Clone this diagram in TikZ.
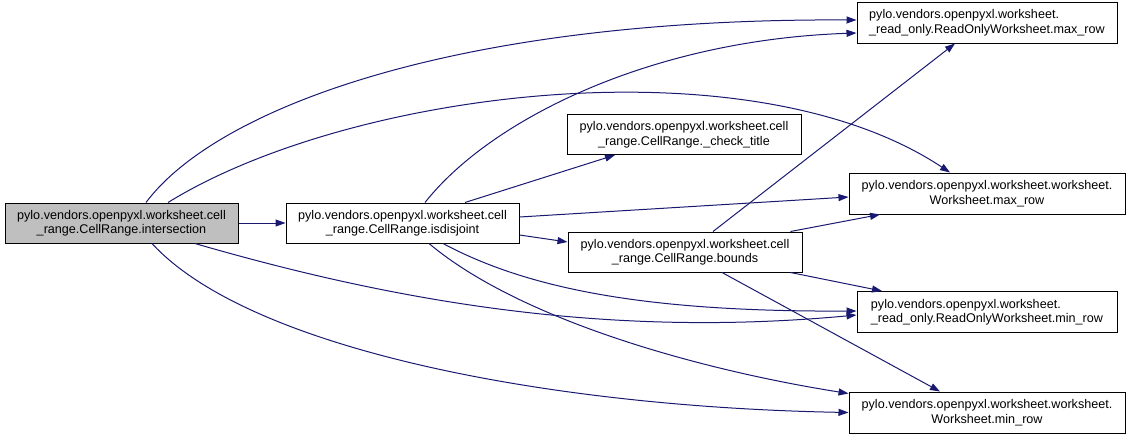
\documentclass[tikz,border=0pt]{standalone}
\usepackage{fontspec}
\setmainfont{Liberation Sans}
\usetikzlibrary{arrows.meta}
\definecolor{edgeblue}{HTML}{191970}
\definecolor{nodegray}{HTML}{BFBFBF}
\begin{document}
\begin{tikzpicture}[x=1pt,y=-1pt,
  fn/.style={draw=black, line width=1pt, fill=white, inner sep=0pt,
    font=\fontsize{12.6}{14.5}\selectfont, align=center, minimum height=40pt},
  fnleft/.style={fn, align=left},
  cur/.style={fn, fill=nodegray},
  call/.style={draw=edgeblue, line width=1pt, -{Triangle[length=10pt,width=7pt]}, fill=none},
]
\useasboundingbox (0,0) rectangle (1131,439);
\node[cur, minimum width=233pt] (A) at (121.5,223) {pylo.vendors.openpyxl.worksheet.cell\\\_range.CellRange.intersection};
\node[fn, minimum width=233pt] (B) at (402.5,223) {pylo.vendors.openpyxl.worksheet.cell\\\_range.CellRange.isdisjoint};
\node[fn, minimum width=234pt] (C) at (684,134.5) {pylo.vendors.openpyxl.worksheet.cell\\\_range.CellRange.\_check\_title};
\node[fn, minimum width=234pt] (D) at (685,252) {pylo.vendors.openpyxl.worksheet.cell\\\_range.CellRange.bounds};
\node[fnleft, minimum width=260pt, minimum height=41pt] (E) at (987,22.5) {pylo.vendors.openpyxl.worksheet.\\\_read\_only.ReadOnlyWorksheet.max\_row};
\node[fn, minimum width=276pt, minimum height=41pt] (F) at (987,193.5) {pylo.vendors.openpyxl.worksheet.worksheet.\\Worksheet.max\_row};
\node[fnleft, minimum width=260pt, minimum height=41pt] (G) at (987,312) {pylo.vendors.openpyxl.worksheet.\\\_read\_only.ReadOnlyWorksheet.min\_row};
\node[fn, minimum width=276pt, minimum height=41pt] (H) at (987,412.5) {pylo.vendors.openpyxl.worksheet.worksheet.\\Worksheet.min\_row};

% edges from A
\draw[call] (A.east) -- (B.west);
\draw[call] ([xshift=24.5pt]A.north) .. controls (215,110) and (450,18) .. ([yshift=2.5pt]E.west);
\draw[call] ([xshift=46.5pt]A.north) .. controls (350,90) and (750,40) .. ([xshift=-37pt]F.north);
\draw[call] ([xshift=73.5pt]A.south) .. controls (400,303) and (610,338) .. ([yshift=-3pt]G.west);
\draw[call] ([xshift=30.5pt]A.south) .. controls (250,350) and (550,407) .. (H.west);
% edges from B
\draw[call] ([xshift=22.5pt]B.north) .. controls (490,120) and (650,40) .. ([yshift=-10.5pt]E.west);
\draw[call] ([xshift=62.5pt]B.north) -- ([xshift=-69pt]C.south);
\draw[call] ([yshift=6pt]B.east) -- ([yshift=-3.5pt]F.west);
\draw[call] ([yshift=-12pt]B.east) -- ([yshift=10pt]D.west);
\draw[call] ([xshift=40.5pt]B.south) .. controls (530,290) and (650,312) .. ([yshift=1pt]G.west);
\draw[call] ([xshift=26.5pt]B.south) .. controls (520,320) and (700,370) .. ([yshift=19pt]H.west);
% edges from D
\draw[call] ([xshift=28pt]D.north) -- ([xshift=-32pt]E.south);
\draw[call] ([xshift=-12pt]D.north east) -- ([xshift=-107pt]F.south);
\draw[call] ([xshift=-12pt]D.south east) -- ([xshift=-105pt]G.north);
\draw[call] ([xshift=37pt]D.south) -- ([xshift=-47pt]H.north);
\end{tikzpicture}
\end{document}
